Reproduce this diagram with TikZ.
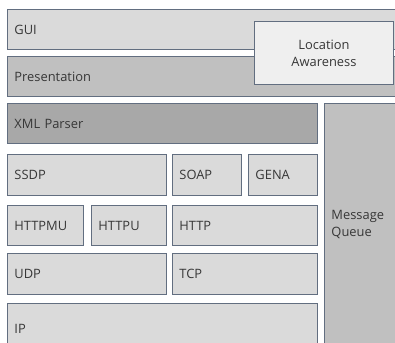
\documentclass[tikz,border=0pt]{standalone}
\usepackage{fontspec}
\setmainfont{Open Sans}
\definecolor{edge}{RGB}{98,110,128}
\definecolor{txt}{RGB}{55,55,55}
\definecolor{light}{RGB}{218,218,218}
\definecolor{mid}{RGB}{192,192,192}
\definecolor{dark}{RGB}{168,168,168}
\definecolor{pale}{RGB}{239,239,239}
\begin{document}
\begin{tikzpicture}[
    x=0.03cm, y=-0.03cm,
    box/.style={draw=edge, fill=#1, line width=0.8pt, anchor=north west,
                minimum height=1.2cm, inner xsep=0.21cm, align=left,
                text=txt, font=\fontsize{11}{14.5}\selectfont},
]
\fill[white] (0,0) rectangle (395,343);
\useasboundingbox (0,0) rectangle (395,343);
\clip (0,0) rectangle (395,343);
% top layers
\node[box=light, text width=11.58cm] (gui)  at (7,9)  {GUI};
\node[box=mid,   text width=11.58cm] (pres) at (7,56) {Presentation};
\node[box=pale, minimum width=4.17cm, minimum height=1.89cm, align=center]
    (loc) at (254,21) {Location\\Awareness};
\node[box=dark,  text width=8.88cm]  (xml)  at (7,103) {XML Parser};
\node[box=mid,   text width=2.46cm, minimum height=7.26cm] (mq) at (324,103) {Message\\Queue};
% protocol stack
\node[box=light, text width=4.35cm, minimum height=1.23cm] (ssdp) at (7,154)   {SSDP};
\node[box=light, text width=1.65cm, minimum height=1.23cm] (soap) at (172,154) {SOAP};
\node[box=light, text width=1.65cm, minimum height=1.23cm] (gena) at (248,154) {GENA};
\node[box=light, text width=1.86cm] (httpmu) at (7,205)  {HTTPMU};
\node[box=light, text width=1.83cm] (httpu)  at (91,205) {HTTPU};
\node[box=light, text width=3.93cm] (http)   at (172,205) {HTTP};
\node[box=light, text width=4.35cm, minimum height=1.23cm] (udp) at (7,253)   {UDP};
\node[box=light, text width=3.93cm, minimum height=1.23cm] (tcp) at (172,253) {TCP};
\node[box=light, text width=8.88cm, minimum height=1.5cm]  (ip)  at (7,303)   {IP};
\end{tikzpicture}
\end{document}
